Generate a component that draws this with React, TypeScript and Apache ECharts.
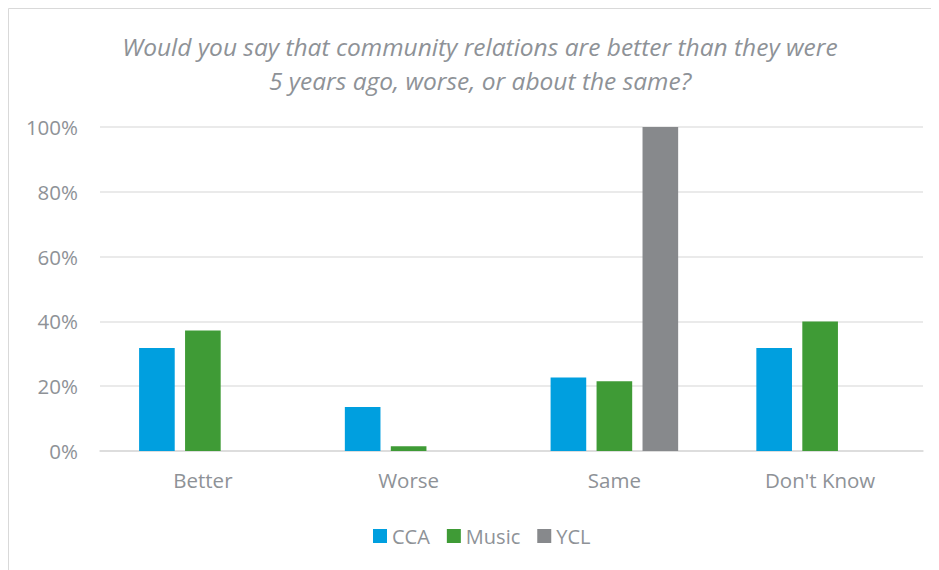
import React, { useEffect, useRef } from "react";
import * as echarts from "echarts";

const categories = ["Better", "Worse", "Same", "Don't Know"];
const seriesNames = ["CCA", "Music", "YCL"];
const ccaValues = [31.8, 13.6, 22.7, 31.8];
const musicValues = [37.2, 1.5, 21.5, 40];
const yclValues = [0, 0, 100, 0];
const titleLines = [
  "Would you say that community relations are better than they were",
  "5 years ago, worse, or about the same?",
];
const colors = ["#009fdf", "#3f9b36", "#87898c"];

export default function App() {
  const ref = useRef<HTMLDivElement>(null);
  useEffect(() => {
    if (!ref.current) return;
    const chart = echarts.init(ref.current, null, { renderer: "svg" });
    const font = "'Open Sans', 'Noto Sans', sans-serif";
    const data = [ccaValues, musicValues, yclValues];
    const titleStyle = {
      fontFamily: font,
      fontStyle: "italic",
      fontSize: 24.5,
      fill: "#8e9297",
      textAlign: "center",
      textVerticalAlign: "middle",
    };
    chart.setOption({
      animation: false,
      backgroundColor: "#ffffff",
      color: colors,
      graphic: [
        { type: "line", shape: { x1: 0.5, y1: 0.5, x2: 931, y2: 0.5 }, style: { stroke: "#d9d9d9", lineWidth: 1 } },
        { type: "line", shape: { x1: 0.5, y1: 0.5, x2: 0.5, y2: 562 }, style: { stroke: "#d9d9d9", lineWidth: 1 } },
        { type: "text", x: 472, y: 38, style: { ...titleStyle, text: titleLines[0] } },
        { type: "text", x: 472, y: 72, style: { ...titleStyle, text: titleLines[1] } },
      ],
      grid: { left: 92, right: 16, top: 119, bottom: 119, containLabel: false },
      legend: {
        left: 360,
        top: 513,
        itemWidth: 14,
        itemHeight: 14,
        itemGap: 17,
        icon: "rect",
        textStyle: { fontFamily: font, fontSize: 20, color: "#8e9297" },
        data: seriesNames,
      },
      xAxis: {
        type: "category",
        data: categories,
        axisLine: { lineStyle: { color: "#d9d9d9", width: 1.5 } },
        axisTick: { show: false },
        axisLabel: { fontFamily: font, fontSize: 20.5, color: "#8e9297", margin: 18 },
      },
      yAxis: {
        type: "value",
        min: 0,
        max: 100,
        interval: 20,
        axisLine: { show: false },
        axisTick: { show: false },
        splitLine: { lineStyle: { color: "#e3e3e3", width: 1.5 } },
        axisLabel: {
          fontFamily: font,
          fontSize: 20.5,
          color: "#8e9297",
          margin: 22,
          formatter: (v: number) => v + "%",
        },
      },
      series: seriesNames.map((name, i) => ({
        name,
        type: "bar",
        data: data[i],
        barGap: "29%",
        barCategoryGap: "38%",
        itemStyle: { color: colors[i] },
      })),
    });
    return () => chart.dispose();
  }, []);
  return <div ref={ref} style={{ width: 931, height: 562 }} />;
}
